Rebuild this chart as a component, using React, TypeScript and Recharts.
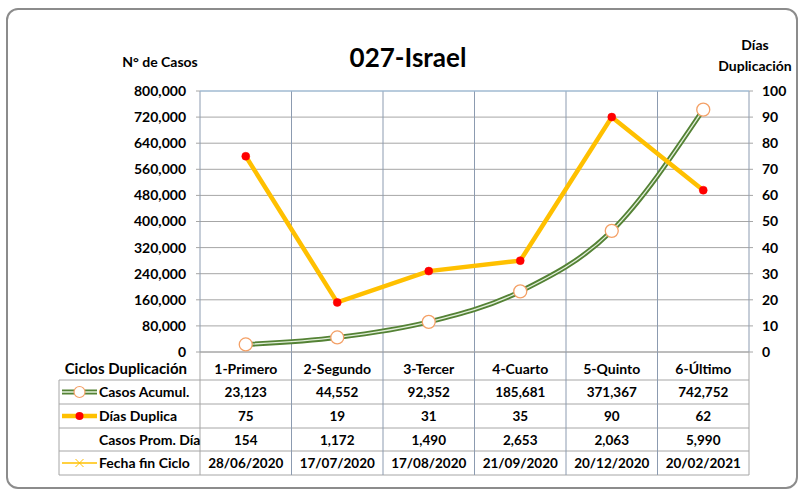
import React from 'react';
import { ComposedChart, Line, XAxis, YAxis, CartesianGrid, ReferenceLine } from 'recharts';

const categories = ['1-Primero', '2-Segundo', '3-Tercer', '4-Cuarto', '5-Quinto', '6-Último'];
const casosAcumul = [23123, 44552, 92352, 185681, 371367, 742752];
const diasDuplica = [75, 19, 31, 35, 90, 62];
const casosPromDia = [154, 1172, 1490, 2653, 2063, 5990];
const fechaFinCiclo = ['28/06/2020', '17/07/2020', '17/08/2020', '21/09/2020', '20/12/2020', '20/02/2021'];
const leftTicks = [0, 80000, 160000, 240000, 320000, 400000, 480000, 560000, 640000, 720000, 800000];
const rightTicks = [0, 10, 20, 30, 40, 50, 60, 70, 80, 90, 100];

const W = 798;
const H = 489;
const PLOT_LEFT = 200;
const PLOT_RIGHT = 749;
const PLOT_TOP = 91;
const PLOT_BOTTOM = 352;
const LEFT_AXIS_W = 140;
const RIGHT_AXIS_W = 49;
const X_AXIS_H = 30;
const FONT = 'Lato, "Open Sans", sans-serif';

const data = categories.map((c, i) => ({
  cat: c,
  casos: casosAcumul[i],
  dias: diasDuplica[i],
}));

const fmt = (v: number) => v.toLocaleString('en-US');

const GREEN_DARK = '#548235';
const GREEN_LIGHT = '#e2efda';
const GOLD = '#FFC000';
const RED = '#FF0000';
const ORANGE = '#F4A066';
const GRID = '#a6a6a6';
const VGRID = '#8c9bb0';
const TABLE = '#a6a6a6';

const CatTick = (props: any) => {
  const { x, y, payload } = props;
  return (
    <text x={x} y={y + 20} textAnchor="middle" fontFamily={FONT} fontSize={14} fontWeight={700} fill="#000">
      {payload.value}
    </text>
  );
};

const RedDot = (props: any) => {
  const { cx, cy } = props;
  if (cx == null || cy == null) return null;
  return <circle cx={cx} cy={cy} r={4} fill={RED} stroke={RED} strokeWidth={0.5} />;
};

const RingDot = (props: any) => {
  const { cx, cy } = props;
  if (cx == null || cy == null) return null;
  return <circle cx={cx} cy={cy} r={6.5} fill="#ffffff" stroke={ORANGE} strokeWidth={1.3} />;
};

const TableOverlay = () => {
  const n = categories.length;
  const colW = (PLOT_RIGHT - PLOT_LEFT) / n;
  const tableLeft = 59;
  const rowYs = [380, 404, 428, 451, 475];
  const rows: { label: string; values: string[] }[] = [
    { label: 'Casos Acumul.', values: casosAcumul.map(fmt) },
    { label: 'Días Duplica', values: diasDuplica.map(String) },
    { label: 'Casos Prom. Día', values: casosPromDia.map(fmt) },
    { label: 'Fecha fin Ciclo', values: fechaFinCiclo },
  ];
  const colXs = Array.from({ length: n + 1 }, (_, i) => PLOT_LEFT + i * colW);
  const txt = { fontFamily: FONT, fontSize: 13.5, fontWeight: 700, fill: '#000' } as any;
  const lbl = { fontFamily: FONT, fontSize: 14, fontWeight: 700, fill: '#000' } as any;
  return (
    <svg width={W} height={H} style={{ position: 'absolute', left: 0, top: 0, pointerEvents: 'none' }}>
      <text x={408} y={67} textAnchor="middle" fontFamily={FONT} fontSize={26} fontWeight={700} fill="#000">
        027-Israel
      </text>
      <text x={160} y={67} textAnchor="middle" {...lbl}>N° de Casos</text>
      <text x={755} y={50} textAnchor="middle" {...lbl}>Días</text>
      <text x={755} y={71} textAnchor="middle" {...lbl}>Duplicación</text>
      <text x={187} y={374} textAnchor="end" fontFamily={FONT} fontSize={15} fontWeight={700} fill="#000">
        Ciclos Duplicación
      </text>
      {rowYs.map((y, i) => (
        <line key={'h' + i} x1={tableLeft} x2={PLOT_RIGHT} y1={y} y2={y} stroke={TABLE} strokeWidth={1} />
      ))}
      <line x1={tableLeft} x2={tableLeft} y1={rowYs[0]} y2={rowYs[rowYs.length - 1]} stroke={TABLE} strokeWidth={1} />
      {colXs.map((x, i) => (
        <line key={'v' + i} x1={x} x2={x} y1={PLOT_BOTTOM} y2={rowYs[rowYs.length - 1]} stroke={i === 0 || i === n ? TABLE : VGRID} strokeWidth={1} />
      ))}
      <line x1={62} x2={97} y1={392} y2={392} stroke={GREEN_DARK} strokeWidth={5} />
      <line x1={62} x2={97} y1={392} y2={392} stroke={GREEN_LIGHT} strokeWidth={1.3} />
      <circle cx={79.5} cy={392} r={5.5} fill="#fff" stroke={ORANGE} strokeWidth={1.2} />
      <line x1={62} x2={97} y1={416} y2={416} stroke={GOLD} strokeWidth={4.5} />
      <circle cx={79.5} cy={416} r={4} fill={RED} />
      <line x1={62} x2={97} y1={463} y2={463} stroke={GOLD} strokeWidth={1.5} />
      <line x1={75.5} x2={83.5} y1={459} y2={467} stroke={GOLD} strokeWidth={1} />
      <line x1={75.5} x2={83.5} y1={467} y2={459} stroke={GOLD} strokeWidth={1} />
      {rows.map((r, ri) => {
        const cy = (rowYs[ri] + rowYs[ri + 1]) / 2 + 5;
        return (
          <g key={'r' + ri}>
            <text x={99} y={cy} textAnchor="start" {...lbl}>{r.label}</text>
            {r.values.map((v, ci) => (
              <text key={ci} x={PLOT_LEFT + (ci + 0.5) * colW} y={cy} textAnchor="middle" {...txt}>{v}</text>
            ))}
          </g>
        );
      })}
    </svg>
  );
};

export default function App() {
  const tickStyle = { fill: '#000', fontSize: 14, fontWeight: 700, fontFamily: FONT } as any;
  return (
    <div style={{ position: 'absolute', left: 0, top: 0, width: W, height: H, background: '#fff' }}>
      <div
        style={{
          position: 'absolute',
          left: 6,
          top: 8,
          width: 788,
          height: 477,
          border: '2px solid #8c8c8c',
          borderRadius: 12,
        }}
      />
      <div style={{ position: 'absolute', left: 0, top: 0 }}>
        <ComposedChart
          width={W}
          height={H}
          data={data}
          margin={{
            top: PLOT_TOP,
            left: PLOT_LEFT - LEFT_AXIS_W,
            right: W - PLOT_RIGHT - RIGHT_AXIS_W,
            bottom: H - PLOT_BOTTOM - X_AXIS_H,
          }}
        >
          <CartesianGrid yAxisId="left" stroke={GRID} horizontal={true} vertical={false} />
          <CartesianGrid
            yAxisId="left"
            stroke={VGRID}
            horizontal={false}
            vertical={true}
            verticalCoordinatesGenerator={({ offset }: any) =>
              Array.from({ length: categories.length + 1 }, (_, i) => offset.left + (i * offset.width) / categories.length)
            }
            syncWithTicks={false}
          />
          <XAxis
            dataKey="cat"
            scale="band"
            height={X_AXIS_H}
            axisLine={false}
            tickLine={false}
            tickSize={0}
            tick={<CatTick />}
            interval={0}
          />
          <YAxis
            yAxisId="left"
            orientation="left"
            width={LEFT_AXIS_W}
            domain={[0, 800000]}
            ticks={leftTicks}
            tickFormatter={fmt}
            axisLine={false}
            tickLine={{ stroke: GRID }}
            tickSize={4}
            tickMargin={10}
            tick={tickStyle}
            interval={0}
          />
          <YAxis
            yAxisId="right"
            orientation="right"
            width={RIGHT_AXIS_W}
            domain={[0, 100]}
            ticks={rightTicks}
            axisLine={false}
            tickLine={{ stroke: GRID }}
            tickSize={4}
            tickMargin={9}
            tick={tickStyle}
            interval={0}
          />
          <ReferenceLine yAxisId="left" y={800000} stroke="#9dc3e6" strokeWidth={1} />
          <ReferenceLine yAxisId="left" y={0} stroke={GRID} strokeWidth={1} />
          <Line
            yAxisId="left"
            type="monotone"
            dataKey="casos"
            stroke={GREEN_DARK}
            strokeWidth={5}
            dot={false}
            activeDot={false}
            isAnimationActive={false}
          />
          <Line
            yAxisId="left"
            type="monotone"
            dataKey="casos"
            stroke={GREEN_LIGHT}
            strokeWidth={1.3}
            dot={<RingDot />}
            activeDot={false}
            isAnimationActive={false}
          />
          <Line
            yAxisId="right"
            type="linear"
            dataKey="dias"
            stroke={GOLD}
            strokeWidth={4.5}
            dot={<RedDot />}
            activeDot={false}
            isAnimationActive={false}
          />
        </ComposedChart>
      </div>
      <TableOverlay />
    </div>
  );
}
